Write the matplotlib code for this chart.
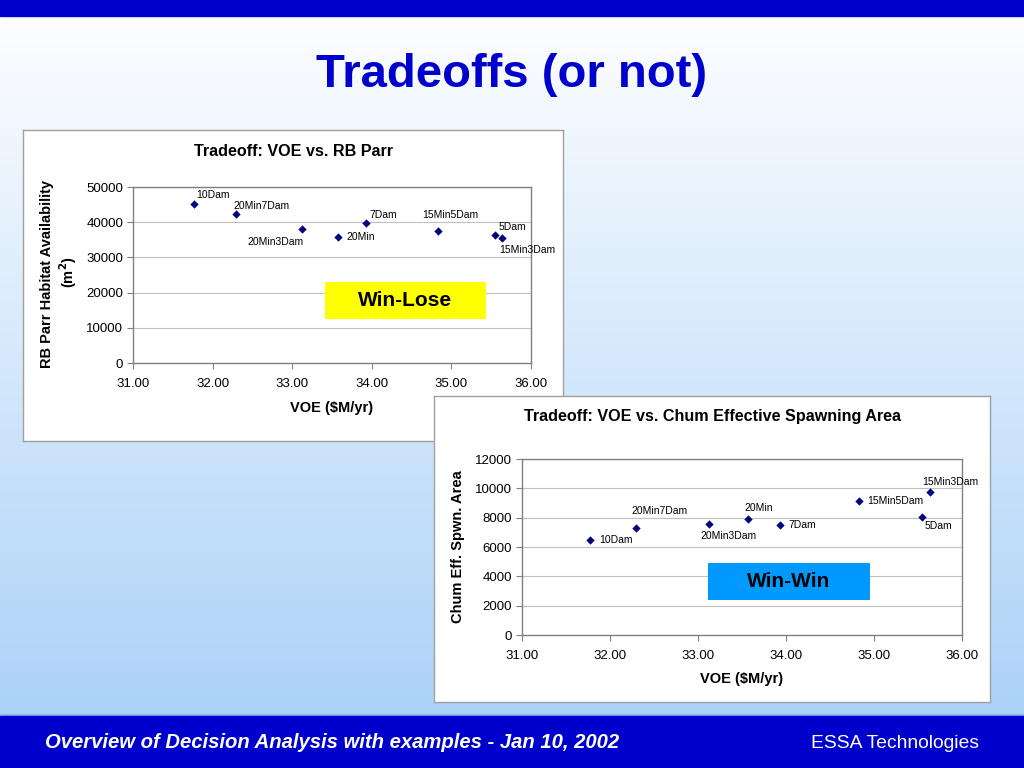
import numpy as np
import matplotlib
matplotlib.use("Agg")
import matplotlib.pyplot as plt
from matplotlib.patches import Rectangle

plt.rcParams['font.family'] = ['Liberation Sans', 'DejaVu Sans']

# ---------------- data ----------------
names = ["10Dam", "20Min7Dam", "20Min3Dam", "20Min", "7Dam", "15Min5Dam", "5Dam", "15Min3Dam"]
voe = [31.77, 32.30, 33.12, 33.57, 33.93, 34.83, 35.55, 35.64]
rb_parr = [45100, 42400, 38000, 35800, 39800, 37600, 36400, 35600]
chum = [6500, 7300, 7550, 7890, 7520, 9140, 8050, 9770]

x_ticks = [31.0, 32.0, 33.0, 34.0, 35.0, 36.0]
y1_ticks = [0, 10000, 20000, 30000, 40000, 50000]
y2_ticks = [0, 2000, 4000, 6000, 8000, 10000, 12000]

# label offsets in pixels (left edge dx, centre dy, +down)
off1 = [(2, -9), (-3, -8), (-54, 13), (9, 0), (3, -8), (-16, -16), (3, -8), (-3, 12)]
off2 = [(9, 0), (-5, -17), (-8, 12), (-4, -11), (9, 0), (8, 0), (2, 9), (-8, -10)]

W, H = 1024, 768
fig = plt.figure(figsize=(W / 100, H / 100), dpi=100)


def rect(x0, y0, x1, y1):
    return [x0 / W, 1 - y1 / H, (x1 - x0) / W, (y1 - y0) / H]


def fx(x):
    return x / W


def fy(y):
    return 1 - y / H


# background gradient
bg = fig.add_axes([0, 0, 1, 1])
bg.set_axis_off()
grad = np.linspace(0, 1, 256).reshape(-1, 1)
top = np.array([1.0, 1.0, 1.0])
bot = np.array([0.65, 0.81, 0.97])
img = top[None, None, :] * (1 - grad[:, :, None]) + bot[None, None, :] * grad[:, :, None]
bg.imshow(img, extent=[0, W, H, 0], aspect='auto')
bg.set_xlim(0, W)
bg.set_ylim(H, 0)
bg.add_patch(Rectangle((0, 0), W, 16, color='#0000CC'))
bg.add_patch(Rectangle((0, 714), W, 2, color='#8FB6F2'))
bg.add_patch(Rectangle((0, 716), W, 52, color='#0000CC'))

fig.text(fx(512), fy(75), "Tradeoffs (or not)", ha='center', va='center',
         fontsize=34, fontweight='bold', color='#0000CC')
fig.text(fx(45), fy(743), "Overview of Decision Analysis with examples - Jan 10, 2002",
         ha='left', va='center', fontsize=14.6, fontweight='bold', fontstyle='italic', color='white')
fig.text(fx(979), fy(743), "ESSA Technologies", ha='right', va='center',
         fontsize=13.9, color='white')


def panel(x0, y0, x1, y1):
    p = fig.add_axes(rect(x0, y0, x1, y1))
    p.set_xticks([])
    p.set_yticks([])
    p.set_facecolor('white')
    for s in p.spines.values():
        s.set_color('#A0A0A0')
        s.set_linewidth(1.0)
    return p


def chart(area, yvals, yticks, ymax, offs):
    ax = fig.add_axes(rect(*area))
    ax.set_facecolor('white')
    ax.set_xlim(31, 36)
    ax.set_ylim(0, ymax)
    ax.set_xticks(x_ticks)
    ax.set_xticklabels(["%.2f" % v for v in x_ticks])
    ax.set_yticks(yticks)
    ax.set_yticklabels([str(v) for v in yticks])
    ax.tick_params(axis='both', direction='out', length=4, width=0.8, color='#808080',
                   labelsize=9.5, pad=3)
    ax.tick_params(axis='x', pad=7)
    ax.grid(axis='y', color='#C0C0C0', linewidth=0.8)
    ax.set_axisbelow(True)
    for s in ax.spines.values():
        s.set_color('#808080')
        s.set_linewidth(1.0)
    ax.scatter(voe, yvals, marker='D', s=18, color='#000080', zorder=3, linewidths=0)
    for n, xv, yv, (dx, dy) in zip(names, voe, yvals, offs):
        ax.annotate(n, (xv, yv), xytext=(dx * 0.72, -dy * 0.72), textcoords='offset points',
                    ha='left', va='center', fontsize=7.5, color='black', zorder=4)
    return ax


def callout(x0, y0, x1, y1, label, color):
    fig.add_artist(Rectangle((fx(x0), fy(y1)), (x1 - x0) / W, (y1 - y0) / H,
                             transform=fig.transFigure, facecolor=color, edgecolor='none', zorder=5))
    fig.text(fx((x0 + x1) / 2), fy((y0 + y1) / 2), label, ha='center', va='center',
             fontsize=15, fontweight='bold', color='black', zorder=6)


# chart 1
panel(23, 130, 563, 441)
ax1 = chart((133, 187, 531, 363), rb_parr, y1_ticks, 50000, off1)
fig.text(fx(293), fy(151), "Tradeoff: VOE vs. RB Parr", ha='center', va='center',
         fontsize=11.6, fontweight='bold')
fig.text(fx(332), fy(408), "VOE (\\$M/yr)", ha='center', va='center', fontsize=10.5, fontweight='bold')
fig.text(fx(47), fy(274), "RB Parr Habitat Availability", ha='center', va='center',
         rotation=90, fontsize=10.5, fontweight='bold')
fig.text(fx(68), fy(272), "(m$^\\mathbf{2}$)", ha='center', va='center',
         rotation=90, fontsize=10.5, fontweight='bold')
callout(325, 282, 486, 319, "Win-Lose", '#FFFF00')

# chart 2
panel(434, 396, 990, 702)
ax2 = chart((522, 459, 962, 635), chum, y2_ticks, 12000, off2)
fig.text(fx(712), fy(417), "Tradeoff: VOE vs. Chum Effective Spawning Area", ha='center', va='center',
         fontsize=11.6, fontweight='bold')
fig.text(fx(742), fy(679), "VOE (\\$M/yr)", ha='center', va='center', fontsize=10.5, fontweight='bold')
fig.text(fx(458), fy(547), "Chum Eff. Spwn. Area", ha='center', va='center',
         rotation=90, fontsize=10.5, fontweight='bold')
callout(708, 563, 870, 600, "Win-Win", '#0099FF')

fig.savefig("out.png", dpi=100)
